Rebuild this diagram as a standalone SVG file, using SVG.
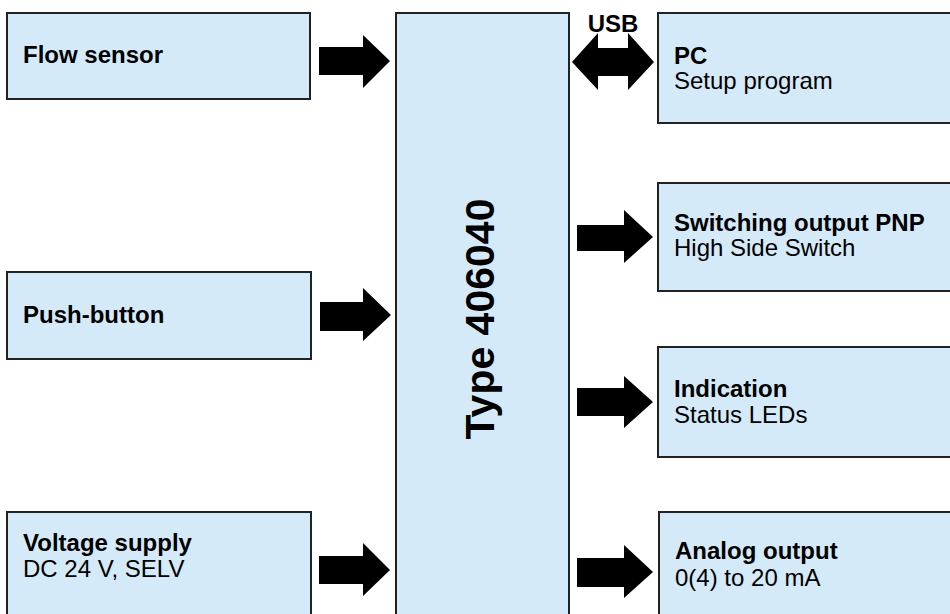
<svg xmlns="http://www.w3.org/2000/svg" width="950" height="614" viewBox="0 0 950 614">
<style>
.box{fill:#D5EAF9;stroke:#222;stroke-width:2}
.t{font-family:"Liberation Sans",Arial,sans-serif;font-size:24px;fill:#000}
.b{font-weight:bold}
.arr{fill:#000;stroke:none}
</style>
<rect width="950" height="614" fill="#fff"/>
<g id="flow-sensor"><rect class="box" x="7" y="13" width="303" height="86"/><text class="t b" x="23" y="63">Flow sensor</text></g>
<g id="push-button"><rect class="box" x="7" y="272" width="304" height="87"/><text class="t b" x="23" y="323">Push-button</text></g>
<g id="voltage-supply"><rect class="box" x="7" y="512" width="304" height="120"/><text class="t b" x="23" y="551">Voltage supply</text><text class="t" x="23" y="577">DC 24 V, SELV</text></g>
<g id="type-406040"><rect class="box" x="396" y="13" width="173" height="620"/><text class="t b" style="font-size:41px" text-anchor="middle" transform="translate(494,319) rotate(-90)">Type 406040</text></g>
<g id="pc"><rect class="box" x="658" y="13" width="310" height="110"/><text class="t b" x="674" y="64">PC</text><text class="t" x="674" y="89">Setup program</text></g>
<g id="switching-output"><rect class="box" x="658" y="183" width="310" height="108"/><text class="t b" x="674" y="231">Switching output PNP</text><text class="t" x="674" y="256">High Side Switch</text></g>
<g id="indication"><rect class="box" x="658" y="347" width="310" height="110"/><text class="t b" x="674" y="397">Indication</text><text class="t" x="674" y="423">Status LEDs</text></g>
<g id="analog-output"><rect class="box" x="659" y="512" width="310" height="120"/><text class="t b" x="675" y="559">Analog output</text><text class="t" x="675" y="586">0(4) to 20 mA</text></g>
<g id="connectors">
<path class="arr" d="M319,47 H363 V35 L390,61 L363,88 V75 H319 Z"/>
<path class="arr" d="M320,302 H363 V288 L391,315 L363,341 V331 H320 Z"/>
<path class="arr" d="M319,556 H363 V543 L390,570 L363,596 V584 H319 Z"/>
<path class="arr" d="M572,62 L598,33 V48 H628 V33 L654,62 L628,90 V76 H598 V90 Z"/>
<text class="t b" x="613" y="32" text-anchor="middle">USB</text>
<path class="arr" d="M577,225 H624 V210 L653,237 L624,263 V251 H577 Z"/>
<path class="arr" d="M577,388 H624 V376 L653,402 L624,428 V416 H577 Z"/>
<path class="arr" d="M577,558 H624 V545 L653,572 L624,598 V587 H577 Z"/>
</g>
</svg>
